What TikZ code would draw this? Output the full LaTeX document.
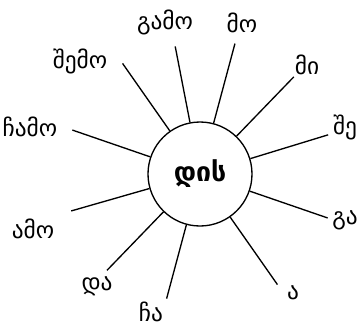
\documentclass[tikz,border=0pt]{standalone}
\usepackage{fontspec}
\newfontfamily\geofont{DejaVu Sans}
\usetikzlibrary{positioning}

\begin{document}
\begin{tikzpicture}[x=0.75pt, y=0.75pt,
  hub/.style={draw, circle, line width=1pt, minimum size=78pt, inner sep=0pt, font=\geofont\bfseries\fontsize{20}{22}\selectfont},
  word/.style={font=\geofont\fontsize{17.5}{20}\selectfont, inner sep=1pt},
  ray/.style={line width=1pt}]
  \useasboundingbox (-200,-152) rectangle (159,174);
  \node[hub] (root) at (0,0) {დის};
  % outer ends of the rays
  \coordinate (gamo-e) at (101:130);
  \coordinate (mo-e) at (75:135);
  \coordinate (mi-e) at (46:135);
  \coordinate (she-e) at (17:134);
  \coordinate (ga-e) at (-19:135);
  \coordinate (a-e) at (-55:135);
  \coordinate (cha-e) at (-105:129);
  \coordinate (da-e) at (-134:134);
  \coordinate (amo-e) at (-164:134);
  \coordinate (chamo-e) at (161:135);
  \coordinate (shemo-e) at (125:135);
  % labels
  \node[word] (gamo) at (-35,152) {გამო};
  \node[word] (mo) at (42,151) {მო};
  \node[word] (mi) at (107,109) {მი};
  \node[word] (she) at (145,47) {შე};
  \node[word] (ga) at (145,-46) {გა};
  \node[word] (a) at (93,-119) {ა};
  \node[word, inner sep=0pt] (cha) at (-49,-138) {ჩა};
  \node[word] (da) at (-103,-112) {და};
  \node[word] (amo) at (-167,-55) {ამო};
  \node[word] (chamo) at (-170,47) {ჩამო};
  \node[word] (shemo) at (-120,113) {შემო};
  \draw[ray] (root) -- (gamo-e);
  \draw[ray] (root) -- (mo-e);
  \draw[ray] (root) -- (mi-e);
  \draw[ray] (root) -- (she-e);
  \draw[ray] (root) -- (ga-e);
  \draw[ray] (root) -- (a-e);
  \draw[ray] (root) -- (cha-e);
  \draw[ray] (root) -- (da-e);
  \draw[ray] (root) -- (amo-e);
  \draw[ray] (root) -- (chamo-e);
  \draw[ray] (root) -- (shemo-e);
\end{tikzpicture}
\end{document}
